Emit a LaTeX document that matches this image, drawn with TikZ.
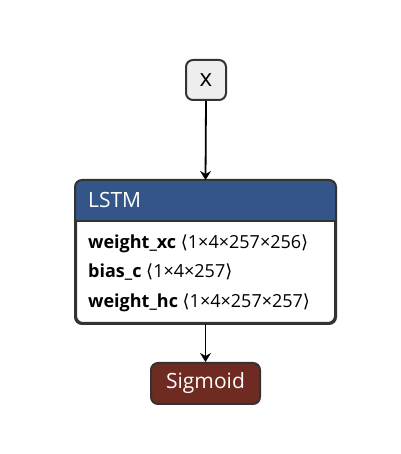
\documentclass[tikz,border=0pt]{standalone}
\usepackage{fontspec}
\setmainfont{Open Sans}
\newfontfamily\symfont{DejaVu Sans}
\usetikzlibrary{arrows.meta}
\definecolor{edgec}{HTML}{333333}
\definecolor{hdr}{HTML}{335588}
\definecolor{sigc}{HTML}{6F2A22}
\definecolor{inpc}{HTML}{EEEEEE}
\tikzset{
  box/.style={draw=edgec, line width=2pt, rounded corners=7pt, inner sep=0pt},
  conn/.style={draw=black, line width=1.8pt, -{Stealth[length=9pt,width=11pt,inset=3pt]}},
  attr/.style={anchor=base west, inner sep=0pt, font=\fontsize{18}{20}\selectfont},
  big/.style={font=\fontsize{21}{24}\selectfont},
}
\begin{document}
\begin{tikzpicture}[x=1pt,y=1pt]
\useasboundingbox (0,0) rectangle (400,454);
% input
\node[box, font=\fontsize{24}{26}\selectfont, fill=inpc, minimum width=40pt, minimum height=40pt] (x) at (206,374) {x};
% LSTM
\node[box, fill=white, minimum width=259pt, minimum height=142pt] (lstm) at (205.5,202) {};
\begin{scope}
  \clip[rounded corners=7pt] (lstm.south west) rectangle (lstm.north east);
  \fill[hdr] (lstm.north west) rectangle ([yshift=-41pt]lstm.north east);
\end{scope}
\draw[edgec, line width=1.5pt] ([yshift=-41pt]lstm.north west) -- ([yshift=-41pt]lstm.north east);
\draw[box] (lstm.south west) rectangle (lstm.north east);
\node[anchor=base west, inner sep=0pt, text=white, big] (title) at (88,246) {LSTM};
\node[attr] (a1) at (88,205) {\textbf{weight\_xc}\ {\symfont ⟨}1×4×257×256{\symfont ⟩}};
\node[attr] (a2) at (88,176) {\textbf{bias\_c}\ {\symfont ⟨}1×4×257{\symfont ⟩}};
\node[attr] (a3) at (88,146) {\textbf{weight\_hc}\ {\symfont ⟨}1×4×257×257{\symfont ⟩}};
% Sigmoid
\node[box, big, fill=sigc, text=white, minimum width=109pt, minimum height=41pt] (sig) at (205.5,70.5) {Sigmoid};
% connectors
\draw[conn] (x.south) -- (lstm.north);
\draw[conn] (lstm.south) -- (sig.north);
\end{tikzpicture}
\end{document}
